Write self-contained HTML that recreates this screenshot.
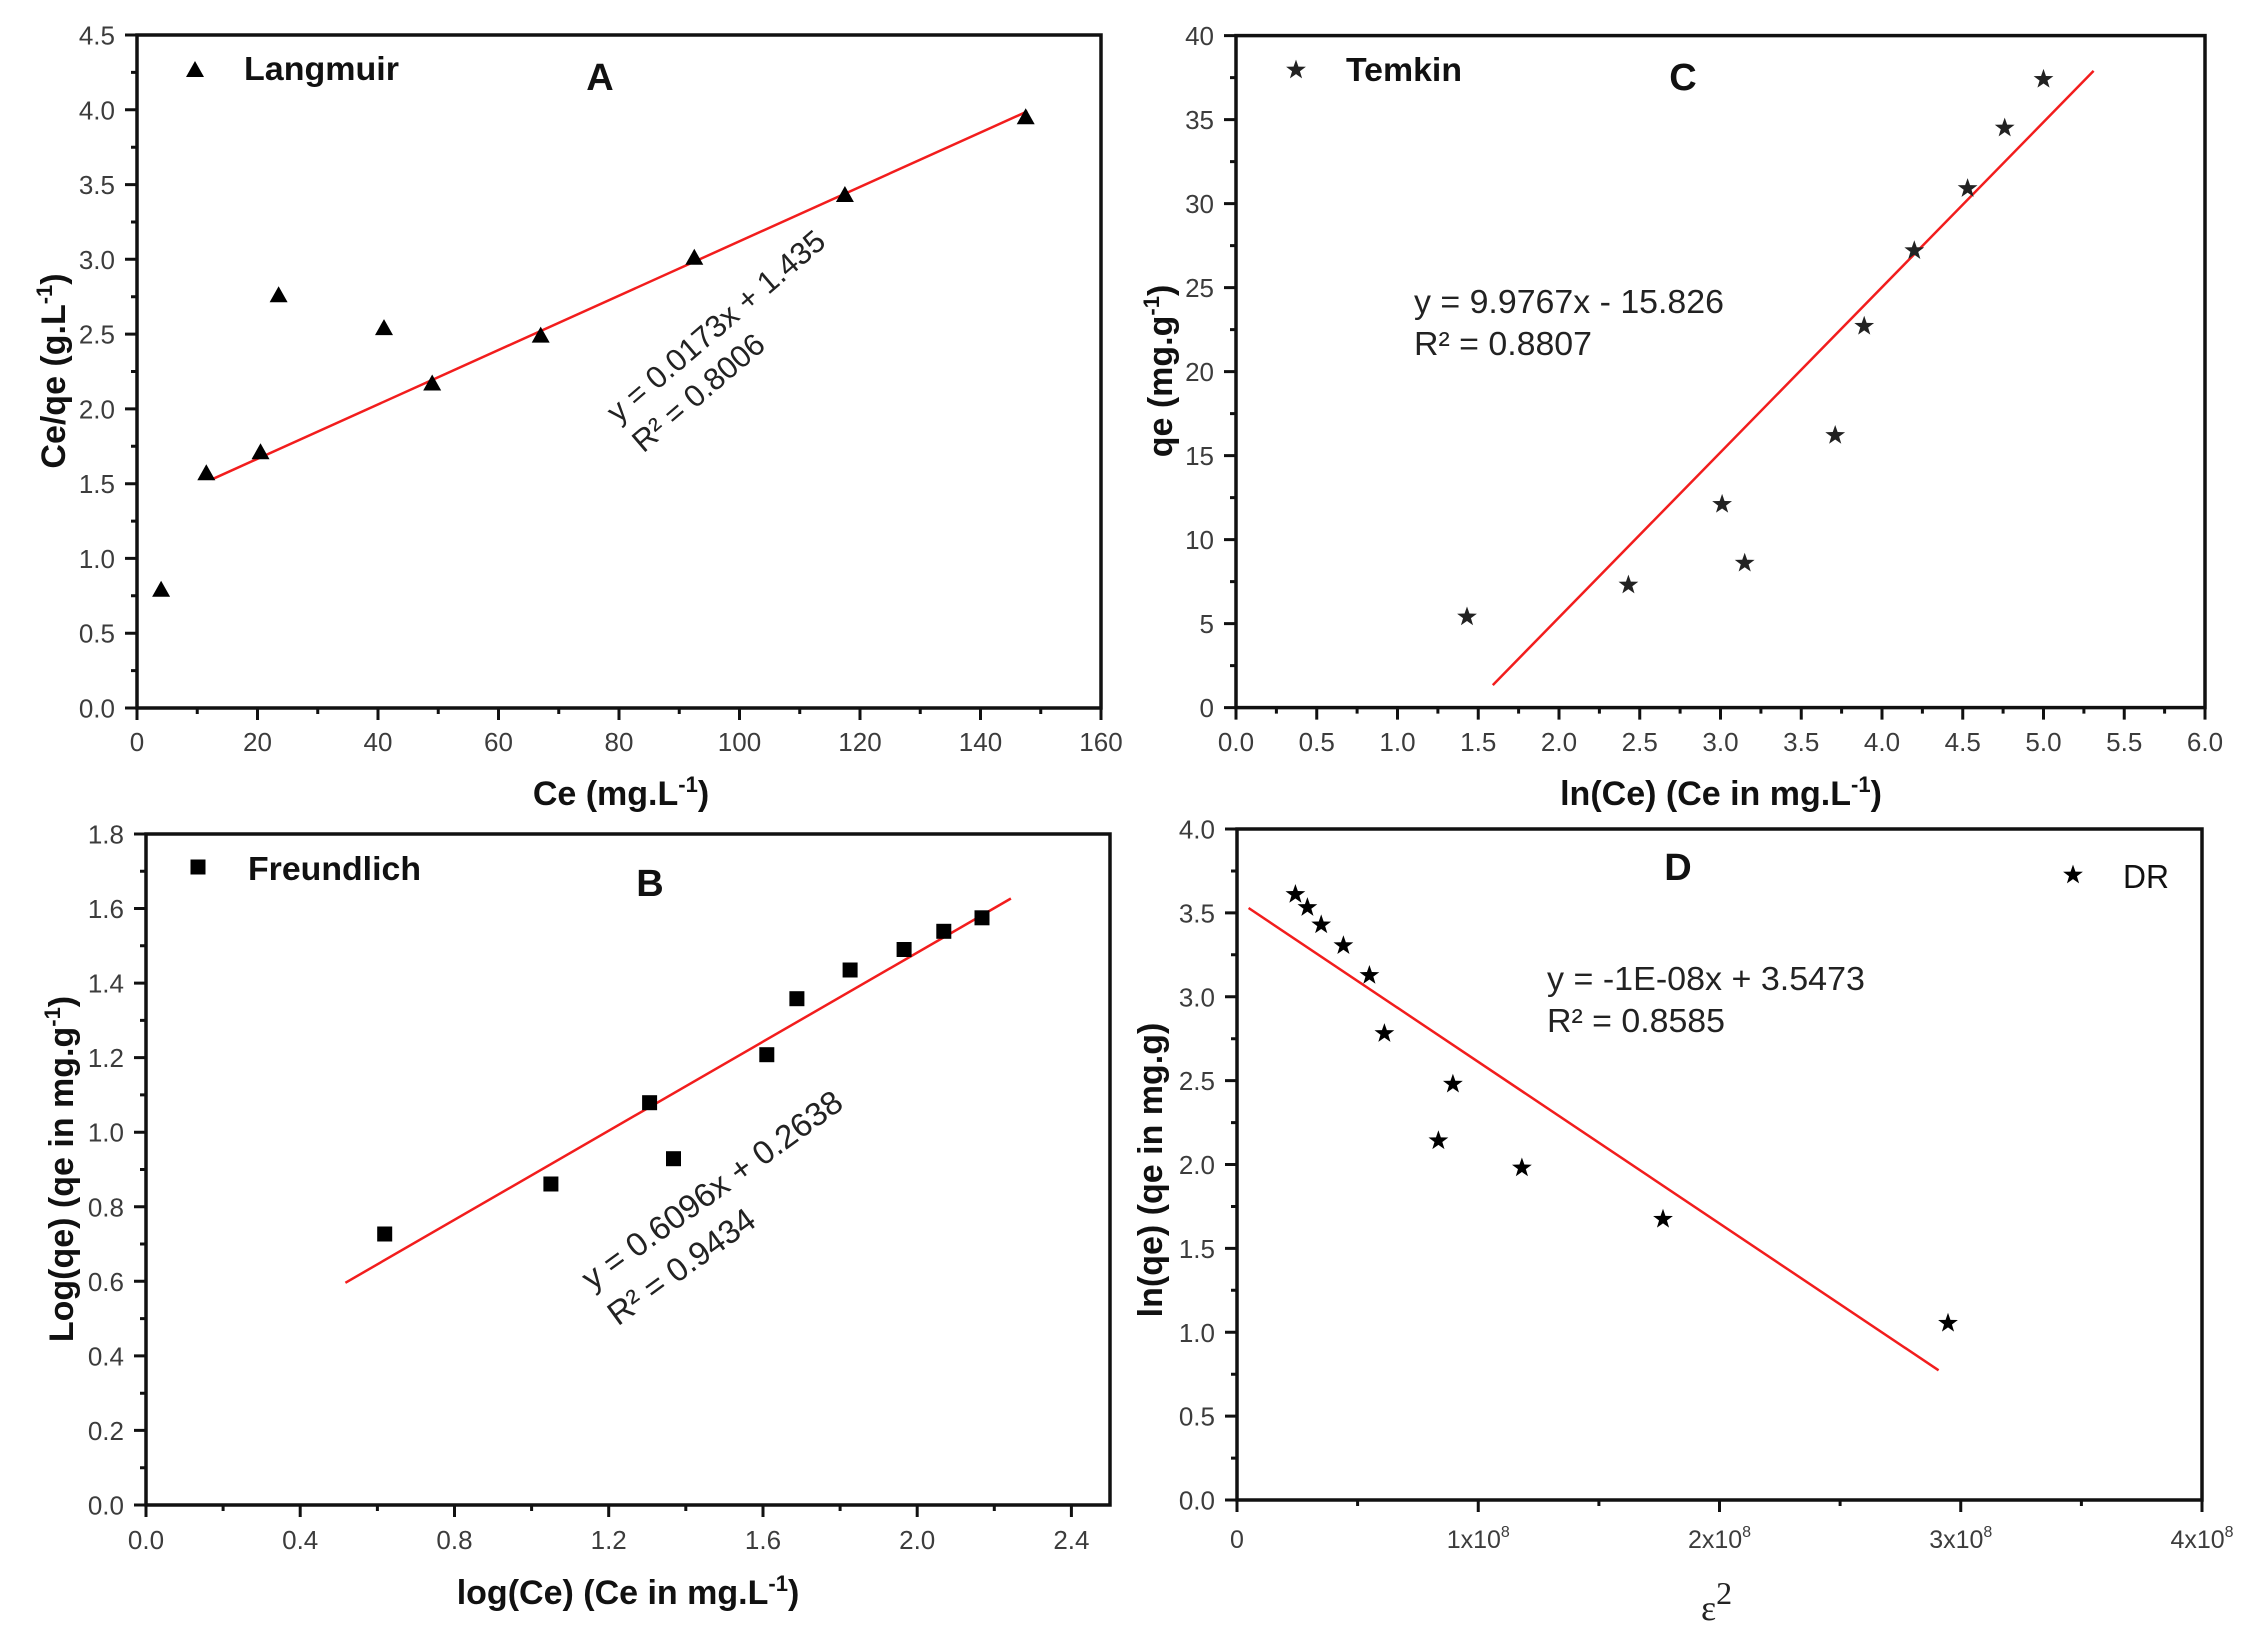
<!DOCTYPE html>
<html><head><meta charset="utf-8"><style>html,body{margin:0;padding:0;background:#fff}svg{display:block}</style></head>
<body>
<svg width="2256" height="1640" viewBox="0 0 2256 1640" xmlns="http://www.w3.org/2000/svg" font-family="'Liberation Sans', Arial, sans-serif">
<defs>
<path id="st" d="M0,-10.4 L2.44,-3.35 L9.9,-3.2 L3.93,1.28 L6.08,8.37 L0,4.14 L-6.08,8.37 L-3.93,1.28 L-9.9,-3.2 L-2.44,-3.35 Z"/>
<path id="tr" d="M0,-9 L9,7 L-9,7 Z"/>
<rect id="sq" x="-7.5" y="-7.5" width="15" height="15"/>
</defs>
<rect width="2256" height="1640" fill="#fff"/>

<!-- ================= PANEL A ================= -->
<g stroke="#111" fill="none">
<rect x="137" y="35" width="964" height="673" stroke-width="3.5"/>
<path stroke-width="3" d="M125,708H137M125,633.2H137M125,558.4H137M125,483.7H137M125,408.9H137M125,334.1H137M125,259.3H137M125,184.6H137M125,109.8H137M125,35H137
M131,670.6H137M131,595.8H137M131,521.1H137M131,446.3H137M131,371.5H137M131,296.7H137M131,222H137M131,147.2H137M131,72.4H137
M137,708V720M257.5,708V720M378,708V720M498.5,708V720M619,708V720M739.5,708V720M860,708V720M980.5,708V720M1101,708V720
M197.25,708V714M317.75,708V714M438.25,708V714M558.75,708V714M679.25,708V714M799.75,708V714M920.25,708V714M1040.75,708V714"/>
</g>
<g font-size="26" fill="#3c3c3c" text-anchor="end">
<text x="115" y="717.5">0.0</text><text x="115" y="642.7">0.5</text><text x="115" y="567.9">1.0</text><text x="115" y="493.2">1.5</text><text x="115" y="418.4">2.0</text><text x="115" y="343.6">2.5</text><text x="115" y="268.8">3.0</text><text x="115" y="194.1">3.5</text><text x="115" y="119.3">4.0</text><text x="115" y="44.5">4.5</text>
</g>
<g font-size="26" fill="#3c3c3c" text-anchor="middle">
<text x="137" y="751">0</text><text x="257.5" y="751">20</text><text x="378" y="751">40</text><text x="498.5" y="751">60</text><text x="619" y="751">80</text><text x="739.5" y="751">100</text><text x="860" y="751">120</text><text x="980.5" y="751">140</text><text x="1101" y="751">160</text>
</g>
<line x1="212.3" y1="479.2" x2="1027.5" y2="111.3" stroke="#f21d1d" stroke-width="2.5"/>
<g fill="#000">
<use href="#tr" x="161.1" y="589.8"/><use href="#tr" x="206.3" y="473.2"/><use href="#tr" x="260.5" y="452.3"/><use href="#tr" x="278.6" y="295.2"/><use href="#tr" x="384" y="328.1"/><use href="#tr" x="432.2" y="383.5"/><use href="#tr" x="540.7" y="335.6"/><use href="#tr" x="694.3" y="257.8"/><use href="#tr" x="844.9" y="195"/><use href="#tr" x="1025.7" y="117.2"/>
<use href="#tr" x="195" y="70"/>
</g>
<text x="244" y="80" font-size="33" font-weight="bold" fill="#111" textLength="155" lengthAdjust="spacingAndGlyphs">Langmuir</text>
<text x="600" y="90" font-size="38" font-weight="bold" fill="#111" text-anchor="middle">A</text>
<text transform="translate(618,424) rotate(-40.6)" font-size="31" fill="#222"><tspan x="0" y="0" textLength="276" lengthAdjust="spacingAndGlyphs">y = 0.0173x + 1.435</tspan><tspan x="0" y="39">R² = 0.8006</tspan></text>
<text transform="translate(65,371) rotate(-90)" font-size="34" font-weight="bold" fill="#111" text-anchor="middle">Ce/qe (g.L<tspan font-size="22" dy="-13">-1</tspan><tspan dy="13">)</tspan></text>
<text x="621" y="805" font-size="34" font-weight="bold" fill="#111" text-anchor="middle">Ce (mg.L<tspan font-size="22" dy="-13">-1</tspan><tspan dy="13">)</tspan></text>

<!-- ================= PANEL C ================= -->
<g stroke="#111" fill="none">
<rect x="1236" y="35.6" width="969" height="672" stroke-width="3.5"/>
<path stroke-width="3" d="M1224,707.6H1236M1224,623.6H1236M1224,539.6H1236M1224,455.6H1236M1224,371.6H1236M1224,287.6H1236M1224,203.6H1236M1224,119.6H1236M1224,35.6H1236
M1230,665.6H1236M1230,581.6H1236M1230,497.6H1236M1230,413.6H1236M1230,329.6H1236M1230,245.6H1236M1230,161.6H1236M1230,77.6H1236
M1236,707.6V719.6M1316.75,707.6V719.6M1397.5,707.6V719.6M1478.25,707.6V719.6M1559,707.6V719.6M1639.75,707.6V719.6M1720.5,707.6V719.6M1801.25,707.6V719.6M1882,707.6V719.6M1962.75,707.6V719.6M2043.5,707.6V719.6M2124.25,707.6V719.6M2205,707.6V719.6
M1276.4,707.6V713.6M1357.1,707.6V713.6M1437.9,707.6V713.6M1518.6,707.6V713.6M1599.4,707.6V713.6M1680.1,707.6V713.6M1760.9,707.6V713.6M1841.6,707.6V713.6M1922.4,707.6V713.6M2003.1,707.6V713.6M2083.9,707.6V713.6M2164.6,707.6V713.6"/>
</g>
<g font-size="26" fill="#3c3c3c" text-anchor="end">
<text x="1214" y="717.1">0</text><text x="1214" y="633.1">5</text><text x="1214" y="549.1">10</text><text x="1214" y="465.1">15</text><text x="1214" y="381.1">20</text><text x="1214" y="297.1">25</text><text x="1214" y="213.1">30</text><text x="1214" y="129.1">35</text><text x="1214" y="45.1">40</text>
</g>
<g font-size="26" fill="#3c3c3c" text-anchor="middle">
<text x="1236" y="751">0.0</text><text x="1316.75" y="751">0.5</text><text x="1397.5" y="751">1.0</text><text x="1478.25" y="751">1.5</text><text x="1559" y="751">2.0</text><text x="1639.75" y="751">2.5</text><text x="1720.5" y="751">3.0</text><text x="1801.25" y="751">3.5</text><text x="1882" y="751">4.0</text><text x="1962.75" y="751">4.5</text><text x="2043.5" y="751">5.0</text><text x="2124.25" y="751">5.5</text><text x="2205" y="751">6.0</text>
</g>
<line x1="1492.8" y1="685.1" x2="2093.6" y2="70.9" stroke="#f21d1d" stroke-width="2.5"/>
<g fill="#222">
<use href="#st" x="1467" y="616.9"/><use href="#st" x="1628.4" y="585"/><use href="#st" x="1722.1" y="504.3"/><use href="#st" x="1744.7" y="563.1"/><use href="#st" x="1835.2" y="435.4"/><use href="#st" x="1864.2" y="326.2"/><use href="#st" x="1914.3" y="250.6"/><use href="#st" x="1967.6" y="188.5"/><use href="#st" x="2004.7" y="128"/><use href="#st" x="2043.5" y="79.3"/>
<use href="#st" x="1296" y="70"/>
</g>
<text x="1346" y="81" font-size="33" font-weight="bold" fill="#111" textLength="116" lengthAdjust="spacingAndGlyphs">Temkin</text>
<text x="1683" y="90" font-size="38" font-weight="bold" fill="#111" text-anchor="middle">C</text>
<text font-size="33" fill="#222"><tspan x="1414" y="313" textLength="310" lengthAdjust="spacingAndGlyphs">y = 9.9767x - 15.826</tspan><tspan x="1414" y="355" textLength="178" lengthAdjust="spacingAndGlyphs">R² = 0.8807</tspan></text>
<text transform="translate(1172,371) rotate(-90)" font-size="34" font-weight="bold" fill="#111" text-anchor="middle">qe (mg.g<tspan font-size="22" dy="-13">-1</tspan><tspan dy="13">)</tspan></text>
<text x="1721" y="805" font-size="34" font-weight="bold" fill="#111" text-anchor="middle">ln(Ce) (Ce in mg.L<tspan font-size="22" dy="-13">-1</tspan><tspan dy="13">)</tspan></text>

<!-- ================= PANEL B ================= -->
<g stroke="#111" fill="none">
<rect x="146" y="834" width="964" height="671" stroke-width="3.5"/>
<path stroke-width="3" d="M134,1505H146M134,1430.4H146M134,1355.9H146M134,1281.3H146M134,1206.8H146M134,1132.2H146M134,1057.6H146M134,983.1H146M134,908.5H146M134,834H146
M140,1467.7H146M140,1393.2H146M140,1318.6H146M140,1244H146M140,1169.5H146M140,1094.9H146M140,1020.4H146M140,945.8H146M140,871.3H146
M146,1505V1517M300.2,1505V1517M454.5,1505V1517M608.7,1505V1517M763,1505V1517M917.2,1505V1517M1071.4,1505V1517
M223.1,1505V1511M377.4,1505V1511M531.6,1505V1511M685.8,1505V1511M840.1,1505V1511M994.3,1505V1511"/>
</g>
<g font-size="26" fill="#3c3c3c" text-anchor="end">
<text x="124" y="1514.5">0.0</text><text x="124" y="1439.9">0.2</text><text x="124" y="1365.4">0.4</text><text x="124" y="1290.8">0.6</text><text x="124" y="1216.3">0.8</text><text x="124" y="1141.7">1.0</text><text x="124" y="1067.1">1.2</text><text x="124" y="992.6">1.4</text><text x="124" y="918">1.6</text><text x="124" y="843.5">1.8</text>
</g>
<g font-size="26" fill="#3c3c3c" text-anchor="middle">
<text x="146" y="1549">0.0</text><text x="300.2" y="1549">0.4</text><text x="454.5" y="1549">0.8</text><text x="608.7" y="1549">1.2</text><text x="763" y="1549">1.6</text><text x="917.2" y="1549">2.0</text><text x="1071.4" y="1549">2.4</text>
</g>
<line x1="345.4" y1="1282.8" x2="1010.9" y2="898.5" stroke="#f21d1d" stroke-width="2.5"/>
<g fill="#000">
<use href="#sq" x="384.7" y="1234"/><use href="#sq" x="550.9" y="1184"/><use href="#sq" x="649.6" y="1102.7"/><use href="#sq" x="673.5" y="1158.7"/><use href="#sq" x="766.8" y="1054.7"/><use href="#sq" x="796.9" y="998.7"/><use href="#sq" x="850.1" y="970"/><use href="#sq" x="904.1" y="949.5"/><use href="#sq" x="943.8" y="931.3"/><use href="#sq" x="982" y="917.8"/>
<use href="#sq" x="198" y="867"/>
</g>
<text x="248" y="880" font-size="33" font-weight="bold" fill="#111" textLength="173" lengthAdjust="spacingAndGlyphs">Freundlich</text>
<text x="650" y="896" font-size="38" font-weight="bold" fill="#111" text-anchor="middle">B</text>
<text transform="translate(592,1291) rotate(-36)" font-size="33" fill="#222"><tspan x="0" y="0" textLength="313" lengthAdjust="spacingAndGlyphs">y = 0.6096x + 0.2638</tspan><tspan x="0" y="44">R² = 0.9434</tspan></text>
<text transform="translate(73,1169) rotate(-90)" font-size="34" font-weight="bold" fill="#111" text-anchor="middle">Log(qe) (qe in mg.g<tspan font-size="22" dy="-13">-1</tspan><tspan dy="13">)</tspan></text>
<text x="628" y="1604" font-size="34" font-weight="bold" fill="#111" text-anchor="middle">log(Ce) (Ce in mg.L<tspan font-size="22" dy="-13">-1</tspan><tspan dy="13">)</tspan></text>

<!-- ================= PANEL D ================= -->
<g stroke="#111" fill="none">
<rect x="1237" y="829" width="965" height="671" stroke-width="3.5"/>
<path stroke-width="3" d="M1225,1500H1237M1225,1416.1H1237M1225,1332.3H1237M1225,1248.4H1237M1225,1164.5H1237M1225,1080.6H1237M1225,996.8H1237M1225,912.9H1237M1225,829H1237
M1231,1458.1H1237M1231,1374.2H1237M1231,1290.3H1237M1231,1206.5H1237M1231,1122.6H1237M1231,1038.7H1237M1231,954.8H1237M1231,871H1237
M1237,1500V1512M1478.25,1500V1512M1719.5,1500V1512M1960.75,1500V1512M2202,1500V1512
M1357.6,1500V1506M1598.9,1500V1506M1840.1,1500V1506M2081.4,1500V1506"/>
</g>
<g font-size="26" fill="#3c3c3c" text-anchor="end">
<text x="1215" y="1509.5">0.0</text><text x="1215" y="1425.6">0.5</text><text x="1215" y="1341.8">1.0</text><text x="1215" y="1257.9">1.5</text><text x="1215" y="1174">2.0</text><text x="1215" y="1090.1">2.5</text><text x="1215" y="1006.3">3.0</text><text x="1215" y="922.4">3.5</text><text x="1215" y="838.5">4.0</text>
</g>
<g font-size="25" fill="#3c3c3c" text-anchor="middle">
<text x="1237" y="1548">0</text>
<text x="1478.25" y="1548">1x10<tspan font-size="16" dy="-11">8</tspan></text>
<text x="1719.5" y="1548">2x10<tspan font-size="16" dy="-11">8</tspan></text>
<text x="1960.75" y="1548">3x10<tspan font-size="16" dy="-11">8</tspan></text>
<text x="2202" y="1548">4x10<tspan font-size="16" dy="-11">8</tspan></text>
</g>
<line x1="1248.6" y1="908" x2="1938.6" y2="1370.3" stroke="#f21d1d" stroke-width="2.5"/>
<g fill="#000">
<use href="#st" x="1295.4" y="894.4"/><use href="#st" x="1307.4" y="907.5"/><use href="#st" x="1321.2" y="924.8"/><use href="#st" x="1343.4" y="945.6"/><use href="#st" x="1369.4" y="975.4"/><use href="#st" x="1384.4" y="1033.5"/><use href="#st" x="1452.9" y="1084.1"/><use href="#st" x="1438.4" y="1140.7"/><use href="#st" x="1521.9" y="1167.9"/><use href="#st" x="1663" y="1219.2"/><use href="#st" x="1948" y="1323.2"/>
<use href="#st" x="2073" y="875"/>
</g>
<text x="2123" y="888" font-size="33" fill="#111" textLength="46" lengthAdjust="spacingAndGlyphs">DR</text>
<text x="1678" y="880" font-size="38" font-weight="bold" fill="#111" text-anchor="middle">D</text>
<text font-size="33" fill="#222"><tspan x="1547" y="990" textLength="318" lengthAdjust="spacingAndGlyphs">y = -1E-08x + 3.5473</tspan><tspan x="1547" y="1032" textLength="178" lengthAdjust="spacingAndGlyphs">R² = 0.8585</tspan></text>
<text transform="translate(1162,1170) rotate(-90)" font-size="34" font-weight="bold" fill="#111" text-anchor="middle">ln(qe) (qe in mg.g)</text>
<text x="1701" y="1620" font-family="'Liberation Serif', 'Times New Roman', serif" font-size="36" fill="#222">ε<tspan font-size="32" dy="-16">2</tspan></text>
</svg>
</body></html>
